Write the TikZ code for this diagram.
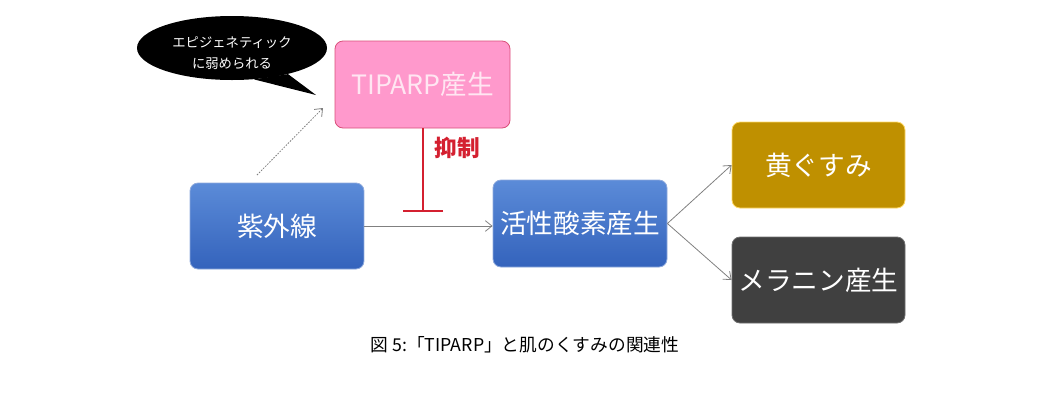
\documentclass[tikz,border=0pt]{standalone}
\usepackage{fontspec}
\setmainfont{Noto Sans CJK JP}
\newfontfamily\cjk{Noto Sans CJK JP}
\usetikzlibrary{arrows.meta,shapes.geometric}
\definecolor{pinkfill}{HTML}{FF99CC}
\definecolor{pinkline}{HTML}{D9507A}
\definecolor{pinktext}{HTML}{FFE6F2}
\definecolor{bluetop}{HTML}{5B8BD8}
\definecolor{bluebot}{HTML}{3463BC}
\definecolor{blueline}{HTML}{8FAADC}
\definecolor{goldfill}{HTML}{BF9000}
\definecolor{goldline}{HTML}{FFD966}
\definecolor{darkfill}{HTML}{404040}
\definecolor{darkline}{HTML}{6F6F6F}
\definecolor{inhred}{HTML}{D42030}
\definecolor{arrgray}{HTML}{808080}
\tikzset{
  box/.style={rounded corners=6pt, minimum width=130.5pt, minimum height=64.5pt,
    font=\cjk\fontsize{20}{24}\selectfont, text=white, inner sep=0pt, line width=0.6pt},
  bluebox/.style={box, draw=blueline, top color=bluetop, bottom color=bluebot},
  conn/.style={draw=arrgray, line width=0.6pt, -{Straight Barb[length=5pt,width=8pt]}},
}
\begin{document}
\begin{tikzpicture}[x=0.75pt,y=-0.75pt]
\useasboundingbox (0,0) rectangle (1051,401);
% bubble
\node[ellipse, fill=black, minimum width=142.5pt, minimum height=48pt, inner sep=0pt] (bubble) at (232,48) {};
\coordinate (tail) at (316,95);
\fill[black] (bubble.-25) -- (tail) -- (bubble.-55) -- cycle;
\node[text=white, align=center, font=\cjk\fontsize{10}{15.5}\selectfont, inner sep=0pt] (bubbletext) at (232,53)
  {エピジェネティック\\に弱められる};
% boxes
\node[box, draw=pinkline, fill=pinkfill, text=pinktext, minimum width=131.25pt, minimum height=65.25pt] (tiparp) at (422.5,84.5) {TIPARP産生};
\node[bluebox] (uv) at (277,226) {紫外線};
\node[bluebox, minimum height=65.25pt] (ros) at (580,223.5) {活性酸素産生};
\node[box, draw=goldline, fill=goldfill, minimum width=129.75pt] (yellow) at (818.5,165) {黄ぐすみ};
\node[box, draw=darkline, fill=darkfill, minimum width=129.75pt] (melanin) at (818.5,280) {メラニン産生};
% connectors
\draw[conn] (uv.east) -- (ros.west |- uv.east);
\draw[conn] (ros.east) -- (yellow.west);
\draw[conn] (ros.east) -- (melanin.west);
\coordinate (dstart) at (257,175);
\coordinate (dend) at (323,108);
\draw[conn, dash pattern=on 1.2pt off 1pt] (dstart) -- (dend);
\coordinate (inh) at (423,212);
\draw[draw=inhred, line width=1.5pt, -{Bar[width=30pt,line width=1.5pt]}] (tiparp.south -| inh) -- (inh);
\node[text=inhred, font=\cjk\bfseries\fontsize{17}{20}\selectfont] (yokusei) at (457,148) {抑制};
% caption
\node[font=\cjk\fontsize{13.3}{16}\selectfont] (caption) at (525,345) {図 5:「TIPARP」と肌のくすみの関連性};
\end{tikzpicture}
\end{document}
